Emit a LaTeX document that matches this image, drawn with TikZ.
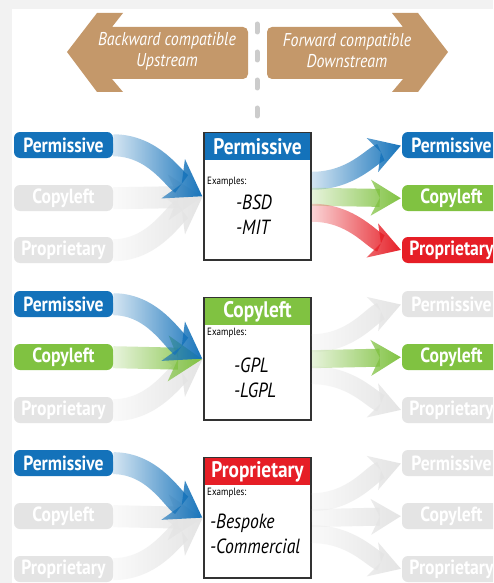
\documentclass[tikz,border=0pt]{standalone}
\usepackage{fontspec}
\setmainfont{PT Sans}[FakeStretch=0.86]
\usetikzlibrary{arrows.meta,fadings}
\definecolor{permblue}{RGB}{20,114,186}
\definecolor{copygreen}{RGB}{128,194,65}
\definecolor{propred}{RGB}{230,30,38}
\definecolor{tanbrown}{RGB}{196,152,106}
\definecolor{offgrey}{RGB}{228,228,228}
\definecolor{boxline}{RGB}{50,50,50}
\tikzfading[name=fadein, left color=transparent!82, middle color=transparent!15, right color=transparent!0]
\tikzstyle{pill}=[rounded corners=6pt, minimum width=99pt, minimum height=26pt, inner sep=0pt, text=white, font=\fontsize{20.5}{21}\selectfont\bfseries]
\tikzstyle{licbox}=[draw=boxline, line width=1.8pt, fill=white, minimum width=107pt, minimum height=125pt, inner sep=0pt]
\tikzstyle{header}=[anchor=north, minimum width=105.2pt, minimum height=27pt, inner sep=0pt, text=white, font=\fontsize{22.5}{24}\selectfont\bfseries]
\tikzstyle{exlabel}=[anchor=west, inner sep=0pt, font=\fontsize{10.5}{11}\selectfont]
\tikzstyle{items}=[anchor=west, inner sep=0pt, align=left, font=\fontsize{20.5}{25}\selectfont\itshape]
\tikzstyle{uptext}=[text=white, align=center, inner sep=0pt, font=\fontsize{18.5}{21}\selectfont\itshape]
\tikzstyle{dashline}=[draw=gray!40, line width=5pt, line cap=round, dash pattern=on 8pt off 20pt]
\tikzstyle{inflow}=[line width=22pt, -{Stealth[length=34pt,width=46pt,inset=10pt,line width=0pt]}]
\tikzstyle{outflow}=[line width=18pt, -{Stealth[length=30pt,width=36pt,inset=9pt,line width=0pt]}]

\begin{document}
\begin{tikzpicture}[x=1pt,y=-1pt,shorten >=1pt]
  \useasboundingbox (0,0) rectangle (493,583);
  \clip (0,0) rectangle (493,583);
  \fill[gray!10] (0,0) rectangle (493,583);
  \fill[white] (12,9) rectangle (493,583);

  % upstream / downstream
  \fill[tanbrown] (67,52) -- (97,13) -- (123,13) -- (112,27) [rounded corners=5pt] -- (248,27) -- (248,79) [sharp corners] -- (112,79) -- (123,92) -- (97,92) -- cycle;
  \fill[tanbrown] (448,52) -- (418,13) -- (392,13) -- (403,27) [rounded corners=5pt] -- (267,27) -- (267,79) [sharp corners] -- (403,79) -- (392,92) -- (418,92) -- cycle;
  \node[uptext] (back) at (167,51) {Backward compatible\\Upstream};
  \node[uptext] (fwd) at (347,51) {Forward compatible\\Downstream};
  \draw[dashline] (257,24) -- (257,128);

  % left column
  \node[pill,fill=permblue] (lp1) at (63.5,145) {Permissive};
  \node[pill,fill=offgrey]  (lc1) at (63.5,198) {Copyleft};
  \node[pill,fill=offgrey]  (lr1) at (63.5,250) {Proprietary};
  \node[pill,fill=permblue] (lp2) at (63.5,304) {Permissive};
  \node[pill,fill=copygreen] (lc2) at (63.5,357) {Copyleft};
  \node[pill,fill=offgrey]  (lr2) at (63.5,410) {Proprietary};
  \node[pill,fill=permblue] (lp3) at (63.5,463) {Permissive};
  \node[pill,fill=offgrey]  (lc3) at (63.5,516) {Copyleft};
  \node[pill,fill=offgrey]  (lr3) at (63.5,569) {Proprietary};

  % right column
  \node[pill,fill=permblue] (rp1) at (451.5,145) {Permissive};
  \node[pill,fill=copygreen] (rc1) at (451.5,198) {Copyleft};
  \node[pill,fill=propred]  (rr1) at (451.5,250) {Proprietary};
  \node[pill,fill=offgrey]  (rp2) at (451.5,304) {Permissive};
  \node[pill,fill=copygreen] (rc2) at (451.5,357) {Copyleft};
  \node[pill,fill=offgrey]  (rr2) at (451.5,410) {Proprietary};
  \node[pill,fill=offgrey]  (rp3) at (451.5,463) {Permissive};
  \node[pill,fill=offgrey]  (rc3) at (451.5,516) {Copyleft};
  \node[pill,fill=offgrey]  (rr3) at (451.5,569) {Proprietary};

  % licence boxes
  \node[licbox,minimum height=127pt] (box1) at (257.5,196.5) {};
  \node[header,fill=permblue] (head1) at ([yshift=-0.9pt]box1.north) {Permissive};
  \node[exlabel] (ex1) at (207,182) {Examples:};
  \node[items] (it1) at (236,214.5) {-BSD\\-MIT};

  \node[licbox,minimum height=122pt] (box2) at (257.5,359) {};
  \node[header,fill=copygreen] (head2) at ([yshift=-0.9pt]box2.north) {Copyleft};
  \node[exlabel] (ex2) at (207,333) {Examples:};
  \node[items] (it2) at (234,378) {-GPL\\-LGPL};

  \node[licbox,minimum height=120pt] (box3) at (257.5,518) {};
  \node[header,fill=propred] (head3) at ([yshift=-0.9pt]box3.north) {Proprietary};
  \node[exlabel] (ex3) at (207,493) {Examples:};
  \node[items] (it3) at (210,534) {-Bespoke\\-Commercial};

  % flows into the boxes
  \begin{scope}
    \path[scope fading=fadein] (113,120) rectangle (204,583);
    \draw[inflow,offgrey] (lc1.east) -- (box1.west);
    \draw[inflow,offgrey] (lr1.east) .. controls +(40,0) and +(-30,18) .. (box1.west);
    \draw[inflow,permblue] (lp1.east) .. controls +(40,0) and +(-30,-18) .. (box1.west);

    \draw[inflow,offgrey] (lr2.east) .. controls +(40,0) and +(-30,18) .. (box2.west);
    \draw[inflow,copygreen] (lc2.east) -- (box2.west);
    \draw[inflow,permblue] (lp2.east) .. controls +(40,0) and +(-30,-18) .. (box2.west);

    \draw[inflow,offgrey] (lc3.east) -- (box3.west);
    \draw[inflow,offgrey] (lr3.east) .. controls +(40,0) and +(-30,18) .. (box3.west);
    \draw[inflow,permblue] (lp3.east) .. controls +(40,0) and +(-30,-18) .. (box3.west);
  \end{scope}

  % flows out of the boxes
  \begin{scope}
    \path[scope fading=fadein] (311,120) rectangle (402,583);
    \draw[outflow,permblue] ([yshift=16pt]box1.east) .. controls +(40,0) and +(-30,10) .. (rp1.west);
    \draw[outflow,copygreen] (box1.east) -- (rc1.west);
    \draw[outflow,propred] ([yshift=-16pt]box1.east) .. controls +(40,0) and +(-30,-10) .. (rr1.west);

    \draw[outflow,offgrey] ([yshift=16pt]box2.east) .. controls +(40,0) and +(-30,10) .. (rp2.west);
    \draw[outflow,offgrey] ([yshift=-16pt]box2.east) .. controls +(40,0) and +(-30,-10) .. (rr2.west);
    \draw[outflow,copygreen] (box2.east) -- (rc2.west);

    \draw[outflow,offgrey] ([yshift=16pt]box3.east) .. controls +(40,0) and +(-30,10) .. (rp3.west);
    \draw[outflow,offgrey] (box3.east) -- (rc3.west);
    \draw[outflow,offgrey] ([yshift=-16pt]box3.east) .. controls +(40,0) and +(-30,-10) .. (rr3.west);
  \end{scope}
\end{tikzpicture}
\end{document}
